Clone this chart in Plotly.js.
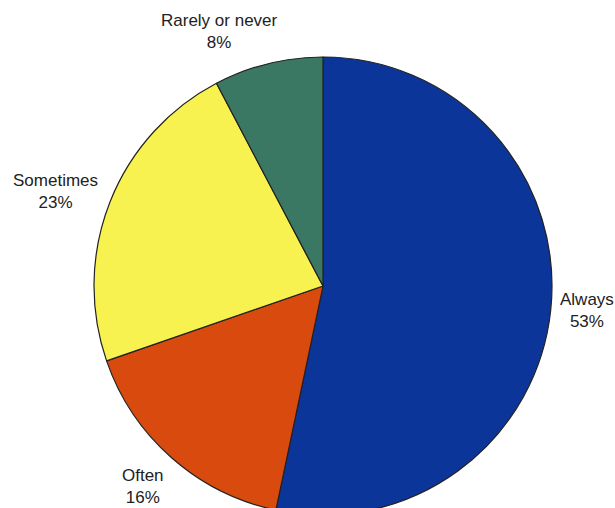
<!DOCTYPE html>
<html><head><meta charset="utf-8">
<script src="https://cdn.plot.ly/plotly-3.0.1.min.js"></script>
<style>html,body{margin:0;padding:0;overflow:hidden;background:#fff;}#chart{width:615px;height:530px;}</style>
</head><body><div id="chart"></div>
<script>
const labels = ["Always", "Often", "Sometimes", "Rarely or never"];
const values = [53.3, 16.4, 22.6, 7.7];
const colors = ["#0b3599", "#d94a0e", "#f8f250", "#3b7863"];

// label anchor positions (pixels) for the outside labels
const labelPos = [[587, 310], [143, 486], [55, 191], [219, 32]];

const W = 615, H = 530, cx = 323, cy = 286, R = 229;
const total = values.reduce((a, b) => a + b, 0);
const annotations = labels.map((l, i) => ({
  xref: "paper", yref: "paper",
  x: labelPos[i][0] / W, y: 1 - labelPos[i][1] / H,
  xanchor: "center", yanchor: "middle",
  text: l + "<br>" + Math.round(values[i] / total * 100) + "%",
  showarrow: false,
  font: {family: "Liberation Sans, Arial, sans-serif", size: 17, color: "#222"}
}));

Plotly.newPlot("chart", [{
  type: "pie",
  labels: labels,
  values: values,
  sort: false,
  direction: "clockwise",
  rotation: 0,
  marker: {colors: colors, line: {color: "#222", width: 1.2}},
  textinfo: "none",
  hoverinfo: "none",
  domain: {x: [(cx - R) / W, (cx + R) / W], y: [1 - (cy + R) / H, 1 - (cy - R) / H]},
  automargin: false
}], {
  width: W, height: H,
  margin: {l: 0, r: 0, t: 0, b: 0},
  showlegend: false,
  annotations: annotations,
  paper_bgcolor: "#fff"
}, {staticPlot: true, displayModeBar: false});
</script></body></html>
